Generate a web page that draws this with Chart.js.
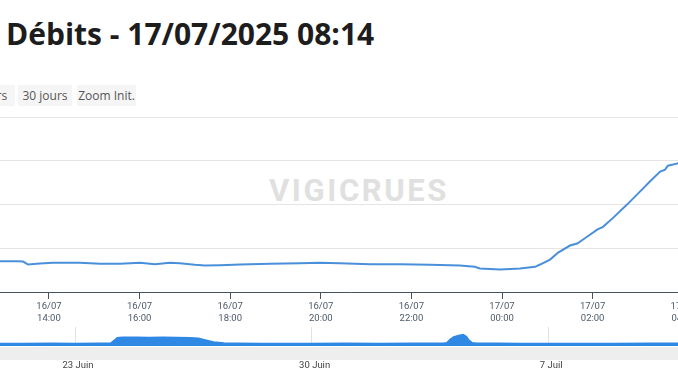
<!DOCTYPE html>
<html>
<head>
<meta charset="utf-8">
<script src="https://cdn.jsdelivr.net/npm/chart.js@4.4.1/dist/chart.umd.min.js"></script>
<style>
  html, body { margin: 0; padding: 0; background: #fff; }
  #page { position: relative; width: 678px; height: 381px; overflow: hidden; font-family: "Open Sans", sans-serif; }
  #title { position: absolute; left: 6px; top: 13px; font-size: 30px; font-weight: bold; color: #1d1d1d; white-space: nowrap; }
  .btn { position: absolute; top: 85px; height: 21px; line-height: 21px; width: 54px; background: #f5f5f5;
         font-size: 12px; color: #555; text-align: center; white-space: nowrap; }
  #mark { position: absolute; left: 269px; top: 172px; font-family: Roboto, sans-serif; font-weight: bold;
          font-size: 31px; letter-spacing: 2.6px; color: #e0e0e0; white-space: nowrap; }
  #scroll { position: absolute; left: 0; top: 347px; width: 678px; height: 13px; background: #eeeeee; }
  #main { position: absolute; left: -60px; top: 110px; }
  #nav { position: absolute; left: -60px; top: 320px; }
</style>
</head>
<body>
<div id="page">
  <div id="title">Débits - 17/07/2025 08:14</div>
  <div class="btn" style="left:-39px">7 jours</div>
  <div class="btn" style="left:18px">30 jours</div>
  <div class="btn" style="left:77px;width:59px">Zoom Init.</div>
  <div id="mark">VIGICRUES</div>
  <div id="scroll"></div>
  <canvas id="main" width="800" height="222"></canvas>
  <canvas id="nav" width="800" height="61"></canvas>
</div>
<script>
// heures depuis le 16/07 00:00
const hours = [12.92, 13.29, 13.43, 13.54, 13.80, 14.09, 14.68, 15.13, 15.57, 16.01, 16.34, 16.67, 16.89, 17.22,
  17.44, 17.77, 18.22, 18.88, 19.54, 19.98, 20.42, 21.09, 21.75, 22.41, 23.07, 23.40, 23.51, 23.96, 24.40, 24.73,
  24.84, 25.06, 25.24, 25.50, 25.66, 25.83, 26.10, 26.23, 26.45, 26.76, 27.05, 27.27, 27.49, 27.60, 27.66, 27.86, 27.89];
const debits = [7.03, 7.03, 6.96, 6.28, 6.51, 6.67, 6.67, 6.44, 6.44, 6.67, 6.35, 6.67, 6.58, 6.21,
  6.05, 6.12, 6.28, 6.44, 6.58, 6.67, 6.58, 6.35, 6.35, 6.21, 6.05, 5.75, 5.37, 5.14, 5.37, 5.75,
  6.28, 7.42, 9.02, 10.62, 11.07, 12.28, 14.27, 14.89, 16.94, 19.98, 23.01, 25.30, 27.51, 27.97, 28.88, 29.34, 29.5];
const yTicks = [0, 10, 20, 30, 40];
const xTickHours = [14, 16, 18, 20, 22, 24, 26, 28];
const xTickLabels = [['16/07', '14:00'], ['16/07', '16:00'], ['16/07', '18:00'], ['16/07', '20:00'],
  ['16/07', '22:00'], ['17/07', '00:00'], ['17/07', '02:00'], ['17/07', '04:00']];

// navigateur : jours depuis le 1er juin
const navDays = [20.78, 21.5, 22.3, 23.0, 23.7, 24.05, 24.15, 24.25, 24.4, 24.8, 25.2, 25.6, 26.0, 26.4, 26.65,
  26.85, 27.1, 27.4, 27.8, 28.5, 29.3, 30.0, 31.0, 32.0, 33.0, 33.9, 34.0, 34.1, 34.2, 34.35, 34.48, 34.58,
  34.66, 34.75, 34.9, 35.5, 36.2, 37.0, 38.0, 39.0, 40.0, 40.84];
const navDebits = [6.6, 6.5, 6.8, 6.6, 6.7, 7.0, 14, 21, 22, 21.8, 21.5, 21.8, 21.2, 20.8, 19.5,
  15.2, 10, 7.5, 6.8, 6.5, 6.6, 6.4, 6.7, 6.5, 6.8, 6.7, 8, 17, 23, 26.5, 29, 24,
  14, 8.5, 7.2, 6.9, 6.6, 6.5, 6.6, 6.5, 6.8, 7.0];
const navTicks = [23, 30, 37];
const navTickLabels = ['23 Juin', '30 Juin', '7 Juil'];

const axisColor = '#445363';

new Chart(document.getElementById('main'), {
  type: 'line',
  data: {
    datasets: [{
      data: hours.map((h, i) => ({ x: h, y: debits[i] })),
      borderColor: '#4a8fda', borderWidth: 2, pointRadius: 0, tension: 0
    }]
  },
  options: {
    responsive: false, animation: false,
    layout: { padding: { left: 60, right: 40, top: 7, bottom: 0 } },
    plugins: { legend: { display: false }, tooltip: { enabled: false } },
    scales: {
      x: {
        type: 'linear', min: 12.92, max: 28.37,
        afterBuildTicks: s => { s.ticks = xTickHours.map(v => ({ value: v })); },
        afterFit: s => { s.height = 40; },
        grid: { drawOnChartArea: false, drawTicks: true, tickLength: 7, color: axisColor },
        border: { color: axisColor, width: 1 },
        ticks: {
          autoSkip: false, maxRotation: 0, padding: 1, color: '#4d5a68',
          font: { family: 'Roboto', size: 9.5, lineHeight: 1.3 },
          callback: (v, i) => xTickLabels[i]
        }
      },
      y: {
        min: 0, max: 40,
        afterBuildTicks: s => { s.ticks = yTicks.map(v => ({ value: v })); },
        afterFit: s => { s.width = 0; },
        grid: { color: '#e4e4e4', drawTicks: false },
        border: { display: false },
        ticks: { display: false }
      }
    }
  }
});

new Chart(document.getElementById('nav'), {
  type: 'line',
  data: {
    datasets: [{
      data: navDays.map((d, i) => ({ x: d, y: navDebits[i] })),
      borderColor: '#2f88e4', borderWidth: 1.5, backgroundColor: '#2f88e4',
      fill: 'start', pointRadius: 0, tension: 0
    }]
  },
  options: {
    responsive: false, animation: false,
    layout: { padding: { left: 60, right: 40, top: 7, bottom: 0 } },
    plugins: { legend: { display: false }, tooltip: { enabled: false } },
    scales: {
      x: {
        type: 'linear', min: 20.78, max: 41.49,
        afterBuildTicks: s => { s.ticks = navTicks.map(v => ({ value: v })); },
        afterFit: s => { s.height = 35; },
        grid: { drawTicks: false, color: '#e2e2e2' },
        border: { display: false },
        ticks: {
          autoSkip: false, maxRotation: 0, padding: 14, labelOffset: 3, color: '#444',
          font: { family: 'Roboto', size: 9.5 },
          callback: (v, i) => navTickLabels[i]
        }
      },
      y: {
        min: 0, max: 48, display: false
      }
    }
  }
});
</script>
</body>
</html>
